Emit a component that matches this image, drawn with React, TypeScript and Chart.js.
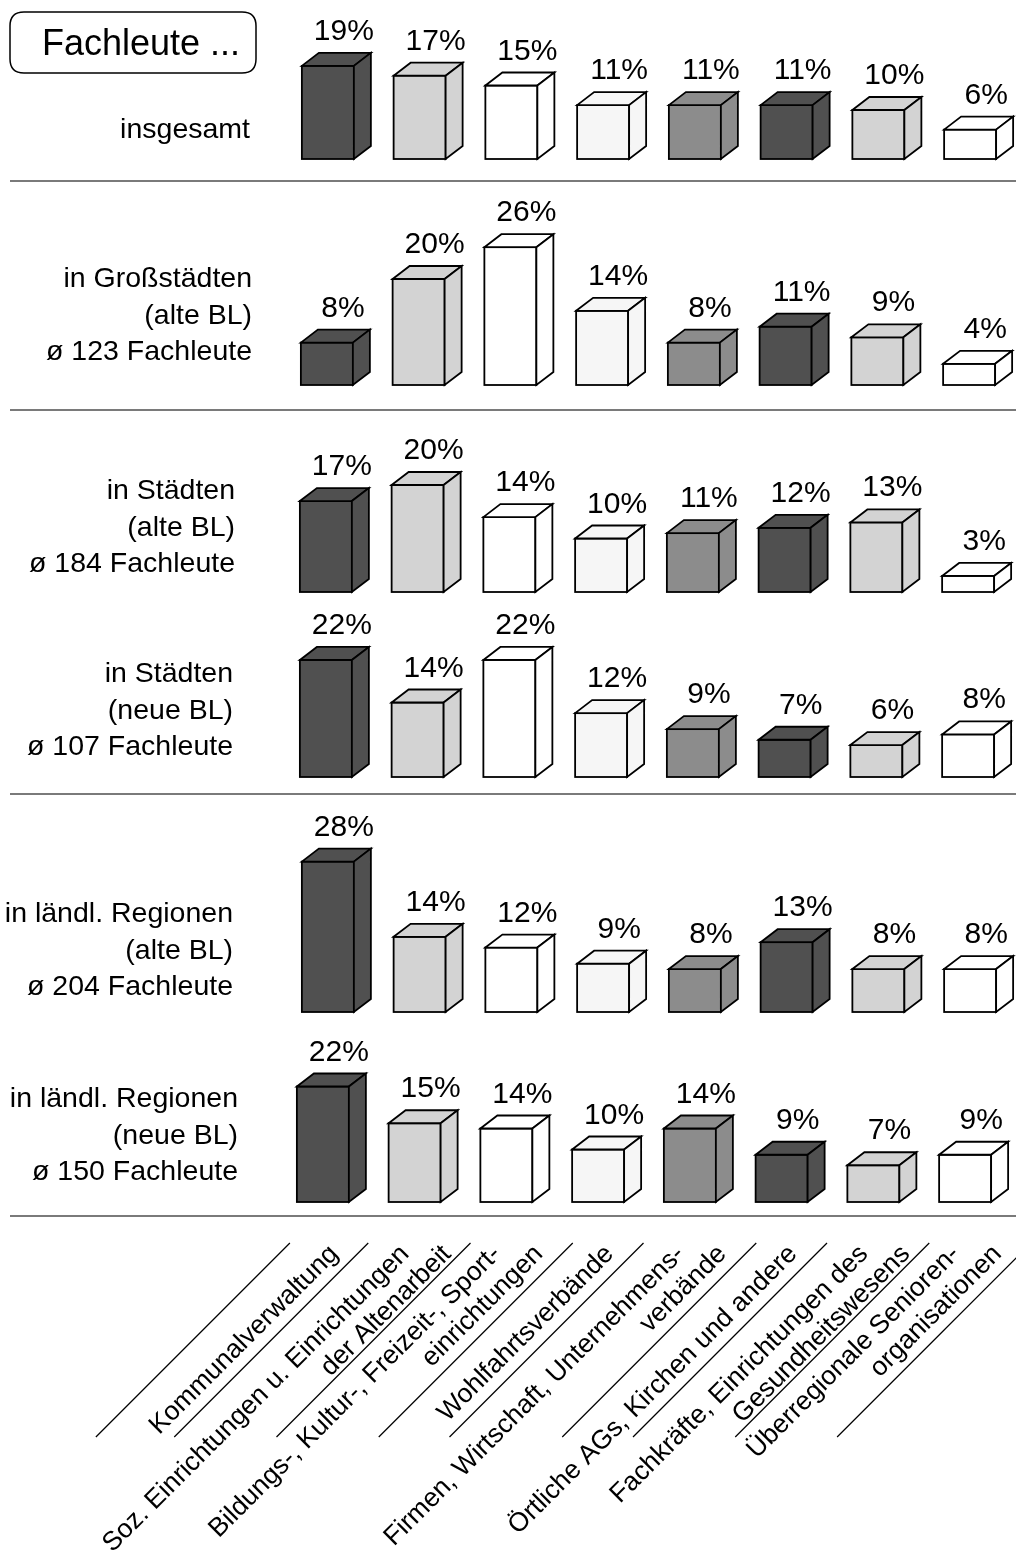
import React, { useEffect, useRef } from "react";
import { Chart, registerables } from "chart.js";

Chart.register(...registerables);

// Organisation types along the bottom axis (multi-line tick labels)
const categories: string[][] = [
  ["Kommunalverwaltung"],
  ["Soz. Einrichtungen u. Einrichtungen", "der Altenarbeit"],
  ["Bildungs-, Kultur-, Freizeit-, Sport-", "einrichtungen"],
  ["Wohlfahrtsverbände"],
  ["Firmen, Wirtschaft, Unternehmens-", "verbände"],
  ["Örtliche AGs, Kirchen und andere"],
  ["Fachkräfte, Einrichtungen des", "Gesundheitswesens"],
  ["Überregionale Senioren-", "organisationen"],
];

// Group captions shown left of each row
const groupLabels: string[][] = [
  ["insgesamt"],
  ["in Großstädten", "(alte BL)", "ø 123 Fachleute"],
  ["in Städten", "(alte BL)", "ø 184 Fachleute"],
  ["in Städten", "(neue BL)", "ø 107 Fachleute"],
  ["in ländl. Regionen", "(alte BL)", "ø 204 Fachleute"],
  ["in ländl. Regionen", "(neue BL)", "ø 150 Fachleute"],
];

// Share of experts per organisation type, in percent
const insgesamt = [19, 17, 15, 11, 11, 11, 10, 6];
const grossstaedteAlt = [8, 20, 26, 14, 8, 11, 9, 4];
const staedteAlt = [17, 20, 14, 10, 11, 12, 13, 3];
const staedteNeu = [22, 14, 22, 12, 9, 7, 6, 8];
const laendlichAlt = [28, 14, 12, 9, 8, 13, 8, 8];
const laendlichNeu = [22, 15, 14, 10, 14, 9, 7, 9];

const rowValues = [insgesamt, grossstaedteAlt, staedteAlt, staedteNeu, laendlichAlt, laendlichNeu];

const title = "Fachleute ...";

// ---- styling / layout ----
const W = 1016;
const H = 1551;
const FONT = '"Liberation Sans", Arial, Helvetica, sans-serif';
const PLOT_LEFT = 282;
const DEPTH_X = 17;
const DEPTH_Y = 13;
const barColors = ["#505050", "#d3d3d3", "#ffffff", "#f6f6f6", "#8c8c8c", "#505050", "#d3d3d3", "#ffffff"];

// axis label geometry (rotated 45°)
const AXIS_Y = 1250; // screen row where the label line ends sit
const AXIS_LINE_STEP = 42; // offset between the lines of one label
const DIVIDER_TOP = 1243;
const DIVIDER_BOTTOM = 1437;

const rowLayout = [
  { top: 0, base: 159, pxPerPct: 4.9, shift: 0, labelRight: 250, labelGap: 21, rule: 181 },
  { top: 185, base: 385, pxPerPct: 5.3, shift: -1, labelRight: 252, labelGap: 25, rule: 410 },
  { top: 415, base: 592, pxPerPct: 5.35, shift: -2, labelRight: 235, labelGap: 20, rule: 0 },
  { top: 600, base: 777, pxPerPct: 5.32, shift: -2, labelRight: 233, labelGap: 22, rule: 794 },
  { top: 800, base: 1012, pxPerPct: 5.37, shift: 0, labelRight: 233, labelGap: 17, rule: 0 },
  { top: 1020, base: 1202, pxPerPct: 5.25, shift: -5, labelRight: 238, labelGap: 22, rule: 1216 },
];

function drawCategoryAxis(chart: any, ctx: CanvasRenderingContext2D) {
  const xs = chart.scales.x;
  ctx.save();
  ctx.font = `26.5px ${FONT}`;
  ctx.fillStyle = "#000";
  ctx.textAlign = "right";
  ctx.textBaseline = "middle";
  // "s" = x + y, the coordinate across the 45° label direction
  const firstTip: number[] = [];
  const lastTip: number[] = [];
  categories.forEach((cat, i) => {
    const cx = xs.getPixelForValue(i);
    cat.forEach((t, j) => {
      const tipX = cx + (j - (cat.length - 1) / 2) * AXIS_LINE_STEP;
      if (j === 0) firstTip.push(tipX + AXIS_Y);
      if (j === cat.length - 1) lastTip.push(tipX + AXIS_Y);
      ctx.save();
      ctx.translate(tipX + 6.5, AXIS_Y);
      ctx.rotate(-Math.PI / 4);
      ctx.fillText(t, 0, 0);
      ctx.restore();
    });
  });
  // diagonal dividers between the labels
  const dividers: number[] = [firstTip[0] - 45];
  for (let i = 0; i < categories.length - 1; i++) {
    dividers.push((lastTip[i] + firstTip[i + 1]) / 2 - 2);
  }
  dividers.push(lastTip[categories.length - 1] + 33);
  ctx.strokeStyle = "#000";
  ctx.lineWidth = 1.3;
  dividers.forEach((s) => {
    ctx.beginPath();
    ctx.moveTo(s - DIVIDER_TOP, DIVIDER_TOP);
    ctx.lineTo(s - DIVIDER_BOTTOM, DIVIDER_BOTTOM);
    ctx.stroke();
  });
  ctx.restore();
}

function cubePlugin(rowIndex: number) {
  const layout = rowLayout[rowIndex];
  return {
    id: "cubes" + rowIndex,
    afterDatasetsDraw(chart: any) {
      const ctx: CanvasRenderingContext2D = chart.ctx;
      const meta = chart.getDatasetMeta(0);
      const values = rowValues[rowIndex];
      ctx.save();
      ctx.lineWidth = 1.8;
      ctx.strokeStyle = "#000";
      ctx.lineJoin = "miter";
      meta.data.forEach((el: any, i: number) => {
        const { x, y, base, width } = el.getProps(["x", "y", "base", "width"], true);
        const l = x - width / 2;
        const r = x + width / 2;
        const color = barColors[i];
        // front outline
        ctx.strokeRect(l, y, width, base - y);
        // top face
        ctx.beginPath();
        ctx.moveTo(l, y);
        ctx.lineTo(l + DEPTH_X, y - DEPTH_Y);
        ctx.lineTo(r + DEPTH_X, y - DEPTH_Y);
        ctx.lineTo(r, y);
        ctx.closePath();
        ctx.fillStyle = color;
        ctx.fill();
        ctx.stroke();
        // side face
        ctx.beginPath();
        ctx.moveTo(r, y);
        ctx.lineTo(r + DEPTH_X, y - DEPTH_Y);
        ctx.lineTo(r + DEPTH_X, base - DEPTH_Y);
        ctx.lineTo(r, base);
        ctx.closePath();
        ctx.fill();
        ctx.stroke();
        // value label
        ctx.fillStyle = "#000";
        ctx.font = `30px ${FONT}`;
        ctx.textAlign = "center";
        ctx.textBaseline = "alphabetic";
        ctx.fillText(values[i] + "%", x + DEPTH_X - 1, y - 26);
      });
      ctx.restore();
    },
    afterDraw(chart: any) {
      const ctx: CanvasRenderingContext2D = chart.ctx;
      ctx.save();
      // group caption
      const lines = groupLabels[rowIndex];
      ctx.fillStyle = "#000";
      ctx.font = `28.5px ${FONT}`;
      ctx.textAlign = "right";
      ctx.textBaseline = "alphabetic";
      lines.forEach((t, j) => {
        const yy = layout.base - layout.labelGap - (lines.length - 1 - j) * 36.5;
        ctx.fillText(t, layout.labelRight, yy);
      });
      // row separator
      if (layout.rule) {
        ctx.strokeStyle = "#7a7a7a";
        ctx.lineWidth = 2;
        ctx.beginPath();
        ctx.moveTo(10, layout.rule);
        ctx.lineTo(W, layout.rule);
        ctx.stroke();
      }
      if (rowIndex === 0) {
        // title box
        const bx = 10, by = 12, bw = 246, bh = 61, rad = 14;
        ctx.strokeStyle = "#000";
        ctx.lineWidth = 1.5;
        ctx.beginPath();
        ctx.moveTo(bx + rad, by);
        ctx.lineTo(bx + bw - rad, by);
        ctx.quadraticCurveTo(bx + bw, by, bx + bw, by + rad);
        ctx.lineTo(bx + bw, by + bh - rad);
        ctx.quadraticCurveTo(bx + bw, by + bh, bx + bw - rad, by + bh);
        ctx.lineTo(bx + rad, by + bh);
        ctx.quadraticCurveTo(bx, by + bh, bx, by + bh - rad);
        ctx.lineTo(bx, by + rad);
        ctx.quadraticCurveTo(bx, by, bx + rad, by);
        ctx.closePath();
        ctx.stroke();
        ctx.font = `36px ${FONT}`;
        ctx.textAlign = "left";
        ctx.fillText(title, 42, 55);

        drawCategoryAxis(chart, ctx);
      }
      ctx.restore();
    },
  };
}

export default function App() {
  const refs = useRef<(HTMLCanvasElement | null)[]>([]);

  useEffect(() => {
    const charts = rowLayout.map((layout, i) => {
      const canvas = refs.current[i] as HTMLCanvasElement;
      return new Chart(canvas, {
        type: "bar",
        data: {
          labels: categories as any,
          datasets: [
            {
              data: rowValues[i],
              backgroundColor: barColors,
              borderWidth: 0,
              barThickness: 52,
            },
          ],
        },
        options: {
          responsive: false,
          animation: false,
          events: [],
          layout: {
            padding: {
              left: PLOT_LEFT + layout.shift,
              right: -layout.shift,
              top: layout.top,
              bottom: H - layout.base,
            },
          },
          scales: {
            x: { display: false },
            y: { display: false, min: 0, max: (layout.base - layout.top) / layout.pxPerPct },
          },
          plugins: {
            legend: { display: false },
            tooltip: { enabled: false },
            title: { display: false },
          },
        },
        plugins: [cubePlugin(i)],
      });
    });
    return () => charts.forEach((c) => c.destroy());
  }, []);

  return (
    <div
      style={{
        position: "absolute",
        left: 0,
        top: 0,
        width: W,
        height: H,
        background: "#fff",
        overflow: "hidden",
      }}
    >
      {rowLayout.map((_, i) => (
        <canvas
          key={i}
          ref={(el) => {
            refs.current[i] = el;
          }}
          width={W}
          height={H}
          style={{ position: "absolute", left: 0, top: 0, width: W, height: H }}
        />
      ))}
    </div>
  );
}
